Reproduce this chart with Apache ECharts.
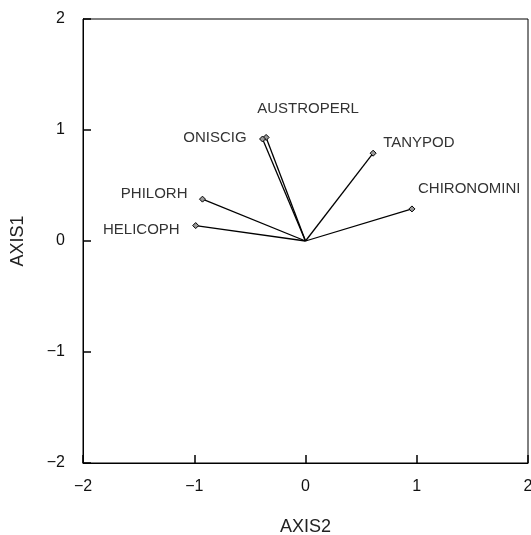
<!DOCTYPE html>
<html>
<head>
<meta charset="utf-8">
<script src="https://cdn.jsdelivr.net/npm/echarts@6/dist/echarts.min.js"></script>
<style>
html,body{margin:0;padding:0;background:#fff;}
#c{width:531px;height:535px;}
</style>
</head>
<body>
<div id="c"></div>
<script>
// ---- data ----
var species = ['CHIRONOMINI', 'TANYPOD', 'AUSTROPERL', 'ONISCIG', 'PHILORH', 'HELICOPH'];
var axis2Values = [0.957, 0.608, -0.354, -0.386, -0.926, -0.987];
var axis1Values = [0.289, 0.791, 0.933, 0.919, 0.377, 0.139];
var tickValues = [-2, -1, 0, 1, 2];

// ---- label placement (style, not data) ----
var labelPlacement = {
  'CHIRONOMINI': {align: 'left', offset: [6, -20]},
  'TANYPOD': {align: 'left', offset: [10, -10]},
  'AUSTROPERL': {align: 'center', offset: [42, -29]},
  'ONISCIG': {align: 'right', offset: [-16, -1]},
  'PHILORH': {align: 'right', offset: [-15, -5]},
  'HELICOPH': {align: 'right', offset: [-16, 4]}
};

var labelFont = "'Liberation Sans', Arial, sans-serif";
var axisFont = "'Liberation Sans', Arial, sans-serif";

function fmt(v) { return v < 0 ? '\u2212' + Math.abs(v) : String(v); }

var series = species.map(function (name, i) {
  var lp = labelPlacement[name];
  return {
    type: 'line',
    name: name,
    data: [[0, 0], [axis2Values[i], axis1Values[i]]],
    lineStyle: {color: '#000', width: 1.3},
    symbol: 'diamond',
    symbolSize: function (val, params) { return params.dataIndex === 0 ? 0 : 6; },
    showAllSymbol: true,
    itemStyle: {color: '#999', borderColor: '#000', borderWidth: 1},
    label: {
      show: true,
      position: 'inside',
      align: lp.align,
      verticalAlign: 'middle',
      offset: lp.offset,
      fontFamily: labelFont,
      fontSize: 15,
      color: '#333',
      formatter: function (p) { return p.dataIndex === 0 ? '' : name; }
    },
    emphasis: {disabled: true},
    silent: true,
    animation: false,
    z: 3
  };
});

var chart = echarts.init(document.getElementById('c'), null, {renderer: 'canvas'});
chart.setOption({
  animation: false,
  grid: {left: 83, right: 3, top: 19, bottom: 72, outerBoundsMode: 'none', containLabel: false, show: true, borderColor: '#000', borderWidth: 1, backgroundColor: 'transparent'},
  xAxis: {
    type: 'value', min: -2, max: 2, interval: 1,
    name: 'AXIS2', nameLocation: 'middle', nameGap: 55,
    nameTextStyle: {fontFamily: axisFont, fontSize: 18, color: '#222'},
    axisLine: {show: true, onZero: false, lineStyle: {color: '#000', width: 1}},
    axisTick: {show: true, inside: true, length: 8, lineStyle: {color: '#000', width: 1.5}},
    axisLabel: {fontFamily: axisFont, fontSize: 16, color: '#111', margin: 16, formatter: fmt, showMinLabel: true, showMaxLabel: true},
    splitLine: {show: false}
  },
  yAxis: {
    type: 'value', min: -2, max: 2, interval: 1,
    name: 'AXIS1', nameLocation: 'middle', nameGap: 56, nameRotate: 90,
    nameTextStyle: {fontFamily: axisFont, fontSize: 18, color: '#222'},
    axisLine: {show: true, onZero: false, lineStyle: {color: '#000', width: 1}},
    axisTick: {show: true, inside: true, length: 8, lineStyle: {color: '#000', width: 1.5}},
    axisLabel: {fontFamily: axisFont, fontSize: 16, color: '#111', margin: 18, formatter: fmt, showMinLabel: true, showMaxLabel: true},
    splitLine: {show: false}
  },
  series: series
});
</script>
</body>
</html>
